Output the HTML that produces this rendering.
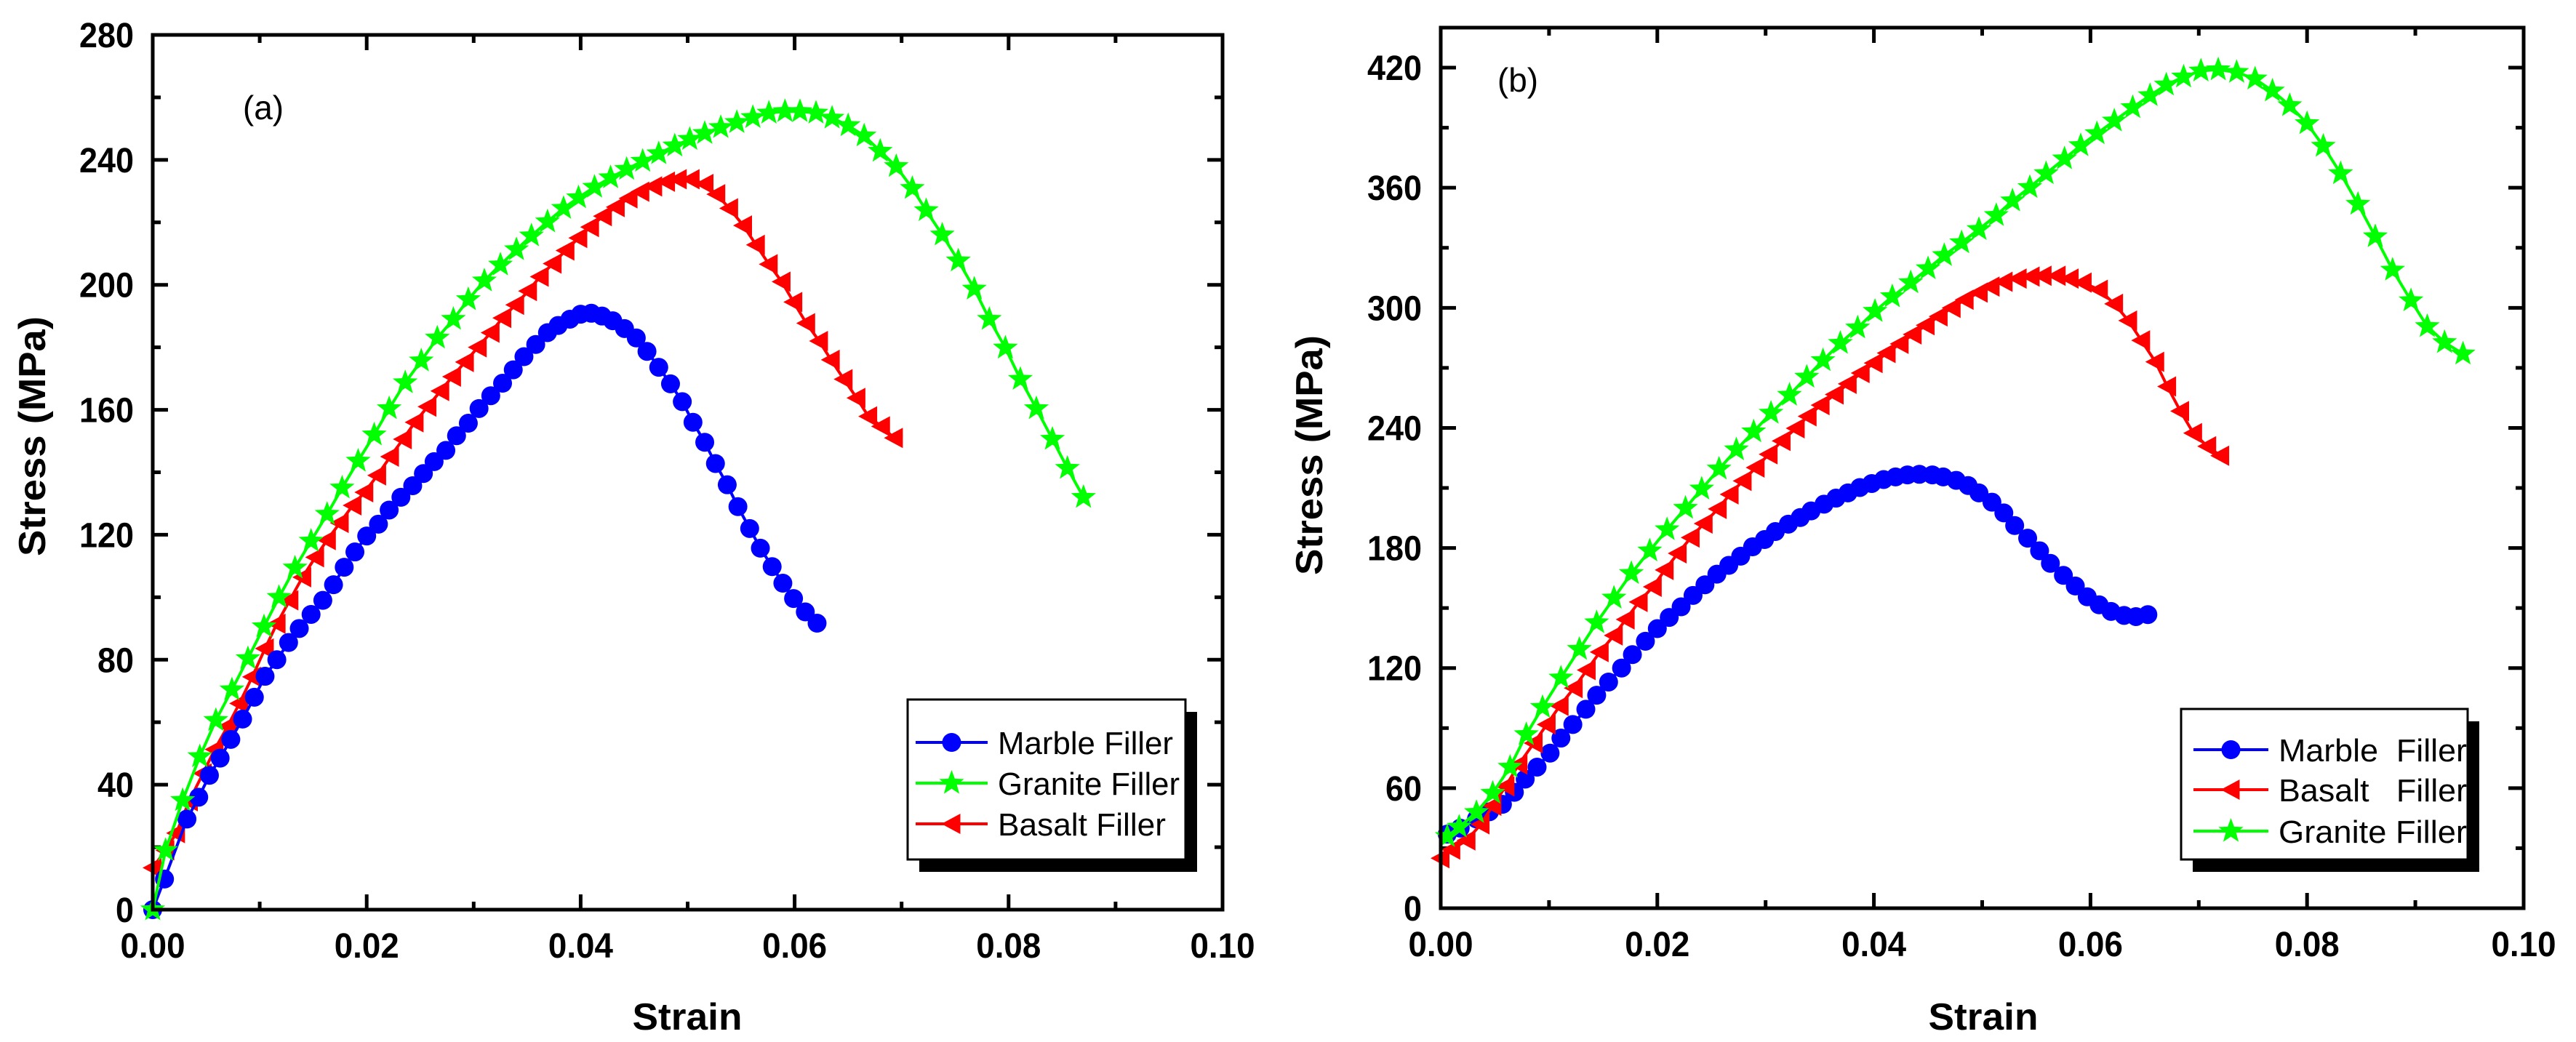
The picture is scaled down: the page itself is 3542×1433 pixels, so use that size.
<!DOCTYPE html>
<html><head><meta charset="utf-8"><style>
html,body{margin:0;padding:0;background:#fff}
svg{display:block}
text{font-family:"Liberation Sans Narrow","Liberation Sans",sans-serif}
.tk{font-weight:bold;font-size:48px}
.tt{font-weight:bold;font-size:52px}
.lg{font-size:44px;white-space:pre}
</style></head><body>
<svg id="chart" width="3542" height="1433" viewBox="0 0 3542 1433" xmlns="http://www.w3.org/2000/svg">
<rect x="0" y="0" width="3542" height="1433" fill="#fff"/>
</svg>
<script>
// ---- Panel (a) data ----
const aMarbleX=[0,.0011,.0032,.0043,.0053,.0063,.0073,.0084,.0095,.0105,.0116,.0127,.0137,.0148,.0159,.0169,.0179,.0189,.02,.0211,.0221,.0232,.0243,.0253,.0263,.0274,.0284,.0295,.0305,.0316,.0327,.0337,.0347,.0358,.0369,.0379,.039,.04,.041,.042,.043,.0441,.0452,.0462,.0473,.0484,.0495,.0505,.0516,.0526,.0537,.0547,.0558,.0568,.0579,.0589,.0599,.061,.0621];
const aMarbleY=[0,9.8,29,36,43,48.5,54.5,61,68,74.7,80,85.5,90,94.5,99,104,109.6,114.5,119.6,123.4,127.9,132,135.7,139.6,143.4,147,151.7,155.7,160.4,164.5,168.5,172.8,177,180.9,184.7,187,189,190.6,190.9,190,188.5,186,183,178.7,173.6,168.3,162.6,156,149.6,142.8,136,129,122,115.7,109.8,104.5,99.6,95.3,91.7];
const aGraniteX=[0,.0012,.0028,.0044,.0059,.0074,.0089,.0104,.0118,.0133,.0148,.0163,.0177,.0192,.0207,.0221,.0236,.0251,.0266,.0281,.0295,.031,.0325,.034,.0354,.0369,.0384,.0398,.0413,.0428,.0443,.0458,.0473,.0488,.0502,.0516,.0531,.0546,.0561,.0576,.0591,.0605,.062,.0635,.065,.0665,.068,.0695,.071,.0723,.0738,.0753,.0768,.0782,.0797,.0811,.0826,.0841,.0855,.087];
const aGraniteY=[0,19,35,49,60.6,70.4,80.4,90.6,100,109.4,118,126.6,135,143.6,152,160.4,168.7,175.7,183,189,195.3,201.3,206.4,211.3,215.7,220.2,224.5,227.9,231.3,234.3,237,239.6,242,244.5,246.6,248.5,250.4,252,253.6,255,255.5,255.5,255,253.4,251,247.7,242.8,237.9,230.9,223.8,216,207.7,198.7,189,179.8,169.8,160.4,150.6,141.3,132];
const aBasaltX=[0,.0012,.0022,.0034,.0047,.0058,.007,.0081,.0093,.0105,.0116,.0128,.014,.0152,.0163,.0175,.0187,.0198,.021,.0222,.0234,.0245,.0257,.0269,.028,.0292,.0304,.0316,.0327,.0339,.0351,.0362,.0374,.0386,.0398,.0409,.0421,.0433,.0445,.0456,.0468,.048,.0491,.0503,.0516,.0527,.0539,.0552,.0564,.0576,.0588,.0599,.0611,.0623,.0634,.0646,.0658,.0669,.0681,.0693];
const aBasaltY=[13.4,19,24.5,34.7,43.6,51.3,58.7,66,74.5,83.6,91.5,99,106.4,112.8,118.3,123.8,129.4,133.6,139,145,150.6,156,161,166,170.6,175.3,180,184.7,189.4,193.6,198,202.6,206.8,211,215,218.5,222,224.9,227.7,229.8,231.5,233,233.8,233.8,232.3,229,224.5,219,212.8,206.6,201,194.5,187.7,182,176,169.8,163.8,157.9,154.7,151];
// ---- Panel (b) data ----
const bMarbleX=[.0006,.0018,.0033,.0045,.0057,.0068,.0078,.0089,.0101,.0111,.0122,.0134,.0144,.0155,.0167,.0177,.0189,.02,.0211,.0222,.0233,.0244,.0255,.0266,.0277,.0288,.0299,.0309,.0321,.0332,.0342,.0354,.0365,.0376,.0387,.0398,.0409,.042,.0431,.0442,.0454,.0464,.0476,.0487,.0497,.0509,.052,.053,.0542,.0553,.0563,.0575,.0586,.0597,.0608,.0619,.0631,.0642,.0653];
const bMarbleY=[37,40,44.6,48.2,51.9,57.9,64.5,70.5,77.5,85,91.8,99.4,106.4,113,120,126.7,133.4,139.7,145.3,150.6,156.3,161.6,166.9,171.3,175.9,180.6,184.2,188.2,191.9,195.2,198.5,201.9,204.9,207.5,210.2,212.2,214.2,215.5,216.5,216.8,216.5,215.5,213.8,211.2,207.5,202.9,197.5,191.2,184.9,178.6,172.3,166.3,161,155.6,151.6,148.3,146.3,145.7,146.7];
const bBasaltX=[0,.001,.0024,.0037,.0048,.006,.0072,.0086,.0098,.011,.0123,.0135,.0147,.016,.0171,.0183,.0196,.0207,.0219,.0231,.0243,.0256,.0267,.0279,.0291,.0303,.0315,.0328,.0339,.0351,.0364,.0376,.0388,.04,.0412,.0424,.0436,.0448,.046,.0472,.0484,.0497,.0508,.052,.0533,.0545,.0556,.0569,.0581,.0593,.0608,.0622,.0635,.0647,.066,.0671,.0683,.0695,.0708,.072];
const bBasaltY=[25,29.3,33.9,41.9,51.2,60.9,71.8,82.5,91.8,101.1,110,119,128,136.3,144.3,153,160.6,169,177.3,185.2,192.2,199.5,206.8,213.5,220.2,226.8,233.5,239.8,245.8,251.4,256.7,262,267.4,272.4,277.4,282,286.7,291.3,295.7,300,304,307.6,310.6,313,314.6,315.6,316,316,314.6,312.6,309,302,293.6,283.7,273,260.7,248.4,237.4,230.8,226.1];
const bGraniteX=[.0006,.0017,.0033,.0048,.0064,.0079,.0094,.0111,.0128,.0144,.016,.0176,.0193,.0209,.0226,.0241,.0257,.0273,.0289,.0305,.0322,.0338,.0353,.0369,.0385,.0401,.0417,.0434,.045,.0465,.0481,.0497,.0513,.0528,.0544,.0559,.0576,.0591,.0606,.0622,.0639,.0655,.067,.0686,.0702,.0718,.0735,.0752,.0768,.0784,.08,.0815,.0831,.0847,.0863,.0879,.0896,.0911,.0927,.0944];
const bGraniteY=[35.9,40.6,47.9,57.5,70.5,86.8,100.4,115.1,129.4,142.7,155,167.3,178.6,189.2,199.9,209.5,219.5,229.1,238.1,247.4,256.4,265.4,273.7,282.3,290,298.3,305.6,312.6,319.6,326.2,332.6,339.2,346.2,353.5,360.2,367.1,374.5,381.1,387.1,393.4,400.1,406.1,411.4,415.4,418.4,419,417.7,414.4,408.4,401.1,392.1,380.8,367.1,351.8,335.6,318.9,303.6,290.7,282.7,277];
const xTicks=[0,0.02,0.04,0.06,0.08,0.10];
const xTickLabels=["0.00","0.02","0.04","0.06","0.08","0.10"];
const aYTicks=[0,40,80,120,160,200,240,280];
const bYTicks=[0,60,120,180,240,300,360,420];

const NS="http://www.w3.org/2000/svg";
const svg=document.getElementById('chart');
function mk(tag,attrs,parent){const e=document.createElementNS(NS,tag);for(const k in attrs)e.setAttribute(k,attrs[k]);(parent||svg).appendChild(e);return e;}
const BLUE="#0000ff",GREEN="#00ff00",RED="#ff0000";

function starPts(cx,cy,R){const r=R*0.42;let p=[];for(let i=0;i<10;i++){const a=-Math.PI/2+i*Math.PI/5;const rr=i%2?r:R;p.push((cx+rr*Math.cos(a)).toFixed(1)+","+(cy+rr*Math.sin(a)).toFixed(1));}return p.join(" ");}
function marker(g,type,cx,cy,color){
  let m;
  if(type==='circle'){m=mk('circle',{cx:cx,cy:cy,r:13,fill:color},g);}
  else if(type==='star'){m=mk('polygon',{points:starPts(cx,cy,18),fill:color},g);}
  else {m=mk('polygon',{points:(cx-14)+","+cy+" "+(cx+12)+","+(cy-14)+" "+(cx+12)+","+(cy+14),fill:color},g);}
  return m;
}

function panel(cfg){
  const g=mk('g',{});
  
  
  const X0=cfg.x0,X1=cfg.x1,Y0=cfg.y0,Y1=cfg.y1;
  const sx=v=>X0+(X1-X0)*v/0.1;
  const sy=v=>Y0-(Y0-Y1)*v/cfg.ymax;
  // ticks
  const tg=mk('g',{stroke:'#000','stroke-width':5},g);
  
  
  for(let i=0;i<=10;i++){const v=i*0.01;const L=i%2?11:21;const x=sx(v);
    mk('line',{x1:x,y1:Y0,x2:x,y2:Y0-L},tg);mk('line',{x1:x,y1:Y1,x2:x,y2:Y1+L},tg);}
  const step=cfg.yt[1]/2;
  for(let v=0;v<=cfg.ymax+0.01;v+=step){const major=Math.abs(v/cfg.yt[1]-Math.round(v/cfg.yt[1]))<1e-6;const L=major?21:11;const y=sy(v);
    mk('line',{x1:X0,y1:y,x2:X0+L,y2:y},tg);mk('line',{x1:X1,y1:y,x2:X1-L,y2:y},tg);}
  // tick labels
  xTicks.forEach((v,i)=>{const t=mk('text',{x:sx(v),y:Y0+66,'text-anchor':'middle',class:'tk',textLength:89,lengthAdjust:'spacingAndGlyphs'},g);t.textContent=xTickLabels[i];
    
    });
  cfg.yt.forEach(v=>{const s=String(v);const w=s.length*25;const t=mk('text',{x:X0-26,y:sy(v)+17,'text-anchor':'end',class:'tk',textLength:w,lengthAdjust:'spacingAndGlyphs'},g);t.textContent=s;
    
    });
  // titles
  const xt=mk('text',{x:cfg.xtX,y:1416,'text-anchor':'middle',class:'tt',textLength:151,lengthAdjust:'spacingAndGlyphs'},g);xt.textContent='Strain';
  
  
  const yt=mk('text',{x:0,y:0,'text-anchor':'middle',class:'tt',textLength:330,lengthAdjust:'spacingAndGlyphs',transform:`translate(${cfg.ytX},${cfg.ytY}) rotate(-90)`},g);yt.textContent='Stress (MPa)';
  
  
  const pl=mk('text',{x:cfg.plX,y:cfg.plY,'text-anchor':'middle','font-size':46},g);pl.textContent=cfg.label;
  
  
  // series
  cfg.series.forEach(s=>{
    const sg=mk('g',{},g);
    
    
    const pts=s.x.map((v,i)=>sx(v).toFixed(1)+","+sy(s.y[i]).toFixed(1)).join(" ");
    mk('polyline',{points:pts,fill:'none',stroke:s.color,'stroke-width':4},sg);
    s.x.forEach((v,i)=>{const m=marker(sg,s.type,sx(v),sy(s.y[i]),s.color);
      
      });
  });
  // frame
  const fr=mk('rect',{x:X0,y:Y1,width:X1-X0,height:Y0-Y1,fill:'none',stroke:'#000','stroke-width':5},g);
  
  
  // legend
  const L=cfg.leg;
  const lg=mk('g',{},g);
  
  
  mk('rect',{x:L.x+16,y:L.y+17,width:L.w,height:L.h,fill:'#000'},lg);
  mk('rect',{x:L.x,y:L.y,width:L.w,height:L.h,fill:'#fff',stroke:'#000','stroke-width':3},lg);
  L.items.forEach((it,i)=>{
    const ey=L.ey[i];
    const eg=mk('g',{},lg);
    
    
    mk('line',{x1:L.lx1,y1:ey,x2:L.lx2,y2:ey,stroke:it.color,'stroke-width':4},eg);
    marker(eg,it.type,(L.lx1+L.lx2)/2,ey,it.color);
    const t=mk('text',{x:L.tx,y:ey+16,class:'lg',textLength:it.w,lengthAdjust:'spacingAndGlyphs'},eg);t.textContent=it.text;
  });
}

panel({name:'panel-a',x0:210,x1:1681,y0:1251,y1:48,ymax:280,yt:aYTicks,xtX:945,ytX:62,ytY:600,plX:362,plY:164,label:'(a)',
  series:[
    {name:'series-basalt',x:aBasaltX,y:aBasaltY,color:RED,type:'tri'},
    {name:'series-marble',x:aMarbleX,y:aMarbleY,color:BLUE,type:'circle'},
    {name:'series-granite',x:aGraniteX,y:aGraniteY,color:GREEN,type:'star'}],
  leg:{x:1248,y:962,w:382,h:220,lx1:1259,lx2:1358,tx:1372,ey:[1021,1077,1133],
    items:[{text:'Marble Filler',color:BLUE,type:'circle',w:241},{text:'Granite Filler',color:GREEN,type:'star',w:250},{text:'Basalt Filler',color:RED,type:'tri',w:231}]}});

panel({name:'panel-b',x0:1981,x1:3470,y0:1249,y1:38,ymax:440,yt:bYTicks,xtX:2727,ytX:1818,ytY:626,plX:2087,plY:126,label:'(b)',
  series:[
    {name:'series-marble',x:bMarbleX,y:bMarbleY,color:BLUE,type:'circle'},
    {name:'series-basalt',x:bBasaltX,y:bBasaltY,color:RED,type:'tri'},
    {name:'series-granite',x:bGraniteX,y:bGraniteY,color:GREEN,type:'star'}],
  leg:{x:2999,y:975,w:394,h:207,lx1:3016,lx2:3119,tx:3133,ey:[1031,1086,1143],
    items:[{text:'Marble  Filler',color:BLUE,type:'circle',w:259},{text:'Basalt   Filler',color:RED,type:'tri',w:259},{text:'Granite Filler',color:GREEN,type:'star',w:259}]}});
</script>
</body></html>
